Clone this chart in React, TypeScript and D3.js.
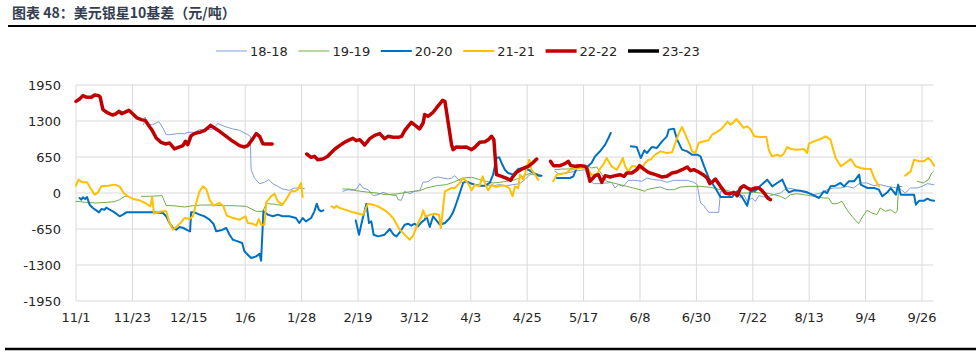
import React, { useEffect } from "react";
import * as d3 from "d3";

type Pt = [number, number] | null;

// day offsets from 2023-11-01 and basis values (元/吨)
const START = new Date(2023, 10, 1);
const TICK_STEP_DAYS = 22;
const TICK_COUNT = 16;
const Y_TICKS = [-1950, -1300, -650, 0, 650, 1300, 1950];
const SERIES_NAMES = ["18-18", "19-19", "20-20", "21-21", "22-22", "23-23"];
const SERIES_COLORS = ["#7f9ddb", "#70ad47", "#0070c0", "#ffc000", "#c00000", "#000000"];
const SERIES_WIDTHS = [1, 1, 2, 2, 3.5, 3.5];

const series18: Pt[] = [
  [26.4,1234],[27,1373],[27.5,1234],[30,1234],[32.3,1288],[33.9,1174],[35.2,1053],[36.5,1053],[39.7,1072],[42.3,1072],[43.6,1096],[46.2,1096],[48.2,1144],[50.8,1144],[53.4,1156],[55.3,1252],[58.6,1192],[61.2,1156],[63.8,1132],[67,1053],[68,1023],[68.3,421],[69.6,271],[71.6,169],[73.5,193],[75.2,241],[76.8,169],[78.7,120],[80.6,72],[83.2,48],[85.2,90],[87.1,90],[89.1,78],
  null,
  [104.1,30],[106.1,60],[108,48],[109.6,78],[110.7,169],[112,90],[113.9,60],[115.9,-48],[117.8,-30],[119.8,12],[122.4,-30],[125,-48],[125.6,-120],[126.9,-132],[128.2,30],[130.2,-12],[132.1,30],[134.1,48],[135.4,193],[137.3,205],[139.3,271],[141.3,289],[143.2,271],[145.2,253],[146.5,271],[147.8,313],[149.1,241],[150.4,193],[152.3,193],[154.9,151],[157.5,132],[160.1,132],[162.7,132],[165.3,151],[167.9,132],[170.5,151],[173.1,169],[175.1,241],[177,331],[179,331],[181,331],
  null,
  [186.8,391],[188.8,331],[190.7,361],[192.7,373],[194.6,391],[196.6,409],[198.5,421],[200.5,241],[201.8,169],[204.4,169],[207,181],[208.9,193],[210.3,90],[211.6,151],[213.5,120],[215.5,229],[218.1,229],[220.7,211],[222.7,271],[225.4,241],[228,229],[230.5,193],[233.1,229],[235.8,229],[238.4,229],[241,193],[242.3,151],[243.6,-181],[244.9,-229],[246.8,-349],[248.8,-349],[250.7,-349],[251.4,30],[253.3,0],[255.2,0],[257.2,-18],[259.2,-90],[260.5,-30],[261.8,-150],[263.7,-90],[265,-150],[266.4,-48],[268.3,-72],[270.3,-60],[272.2,-30],[274.8,0],[277.4,90],[280,72],[282.6,30],[285.2,0],[287.8,-30],[290.4,0],[293,60],[295.6,90],[298.2,90],[300.8,120],[303.3,90],[305.9,181],[308.5,181],[311.1,132],[313.7,151],[316.3,120],[318.9,102],[321.5,72],[323.5,0],[325.5,90],[328.1,90],[330,120],[332,169],[334.6,151],
];

const series19: Pt[] = [
  [0,-150],[4,-169],[7.9,-181],[11.8,-169],[15,-157],[17,-120],[19,-60],[20.3,-60],
  null,
  [25.5,-60],[28.7,-60],[33.6,-48],[35.2,-229],[37.8,-229],[42.3,-253],[45.6,-229],[49.5,-217],[53.4,-217],[57.3,-229],[61.2,-229],[66.4,-241],[70.3,-331],[72.9,-331],[74.2,-193],[76.8,-199],[78.7,-211],[80.4,-223],
  null,
  [104.1,72],[106.7,72],[109.3,42],[113.3,18],[117.2,0],[121,-30],[125,-18],[128.9,12],[131.5,30],[134.1,42],[136.7,90],[140.6,132],[144.5,151],[147.1,193],[151,271],[154.3,283],[157.5,241],[160.1,211],[162.7,181],[165.3,193],[167.9,211],[170.5,229],[173.1,271],[175.8,331],[178.4,373],[181,331],
  null,
  [186.8,421],[189.4,433],[192,433],[195.3,452],[199.2,494],[201.1,452],[203.1,470],[207,211],[209.6,181],[212.2,151],[214.8,120],[217.4,90],[220,60],[222,30],[222.7,60],[225.4,90],[228,108],[230.5,60],[233.1,60],[235.8,108],[239.7,120],[243.6,120],[247.5,102],[251.4,60],[254,48],[256.6,0],[259.2,0],[261.8,0],[264.4,12],[267,0],[269.5,0],[272.2,-30],[274.8,-60],[276.7,-108],[278.7,-30],[281.3,-12],[283.8,-30],[286.5,-48],[289.1,-72],[291.6,-90],[293.6,-90],[294.9,-193],[296.8,-193],[298.8,-150],[300.7,-301],[302.7,-421],[305.3,-554],[306.5,-452],[308.5,-313],[310.5,-361],[312.4,-391],[313.7,-271],[315.7,-331],[317.7,-301],[319.6,-361],[320.3,-331],[320.9,120],[322.2,120],
  null,
  [328.2,211],[330.5,181],[332.5,241],[333.8,361],[334.5,391],
];

const series20: Pt[] = [
  [1.4,-90],[2.1,-120],[2.7,-78],[3.6,-108],[4.3,-72],[5.3,-211],[6.6,-271],[7.9,-313],[9,-349],[9.9,-289],[11.2,-301],[11.8,-265],[13.1,-301],[14.4,-331],[15.7,-373],[17,-421],[18.3,-391],[19.6,-349],[21.9,-349],[26.1,-349],[30,-349],[33.9,-361],[35.2,-421],[36.5,-542],[37.8,-632],[39.1,-662],[40.4,-614],[41.9,-632],[43.6,-674],[44.5,-692],[44.9,-349],[46.2,-349],[48.2,-391],[50.1,-421],[52.1,-482],[53.6,-554],[54.7,-692],[56.6,-674],[58.6,-632],[59.9,-753],[61.2,-843],[63.1,-873],[64.8,-903],[65.7,-1053],[67,-1114],[68.3,-1174],[70.3,-1144],[71.6,-1096],[72.2,-1222],[73.1,-331],[74.8,-391],[76.8,-421],[78.7,-391],[80.6,-421],[83.2,-421],[85.8,-452],[87.1,-542],[88.4,-452],[89.7,-512],[91.7,-452],[93,-331],[93.9,-193],[94.7,-301],[95.6,-331],[96.5,-313],
  null,
  [109.1,-494],[110.4,-753],[111.7,-482],[113.3,-193],[114.3,-542],[115.2,-512],[116.1,-753],[117.8,-783],[120.4,-753],[122.4,-650],[123.9,-753],[125,-783],[126.3,-710],[128.2,-572],[129.5,-554],[130.8,-590],[132.1,-554],[133.4,-602],[134.7,-530],[136,-482],[136.7,-421],[138,-614],[139.3,-421],[140.6,-494],[141.9,-572],[143.9,-542],[145.8,-452],[147.1,-349],[148.4,-181],[149.7,0],[151,181],[152.3,211],[153.6,181],[155.6,151],[157.5,132],[159.5,132],[161.4,181],[162.7,331],[164,632],[165.1,644],[166,542],[167.3,421],[168.6,361],[170.5,331],[172.5,433],[174.5,452],[176.4,421],[178.4,361],[180.3,313],[181.6,313],
  null,
  [187.5,271],[190.1,271],[192.7,271],[194,301],[195.3,452],[197.2,494],[199.2,464],[201.1,542],[202.5,662],[204.4,753],[206.4,873],[207.7,993],[208.6,1084],
  null,
  [216.4,843],[218.7,831],[220.3,632],[221.7,770],[222.7,722],[224.7,831],[226.6,813],[228.6,933],[230.5,1023],[231.2,1144],[233.2,1162],[234.5,963],[236.4,783],[238.4,752],[240.3,692],[242.3,692],[243.6,662],[244.9,494],[246.8,271],[249.4,90],[251.4,-72],[253.9,-72],[255.9,-72],[257.8,30],[259.8,-72],[261.8,-229],[263.1,30],[265,42],[267,132],[269.6,241],[271.6,120],[273.5,181],[275.5,241],[277.2,60],[278.1,12],[280,48],[282.6,42],[285.2,12],[287.2,-30],[289.8,-90],[291.7,30],[293,0],[294.3,120],[296.3,132],[298.2,181],[299.6,120],[301.5,211],[303.5,211],[305.5,331],[306.1,151],[307.4,120],[308.7,90],[311.3,90],[313.2,60],[314.5,-60],[316.5,12],[317.8,90],[319.8,-30],[320.7,151],[321.7,-30],[324.3,-30],[326.9,-30],[327.6,-211],[328.9,-139],[330.8,-139],[332.1,-102],[333.4,-133],[334.7,-139],
];

const series21: Pt[] = [
  [0,132],[1,241],[2.5,193],[4.3,193],[6,60],[7.3,-30],[8.6,12],[9.9,120],[12.5,132],[15,151],[17,120],[18.6,0],[20.3,-60],[22.2,-108],[24.8,-132],[27.4,-193],[29,-241],[29.7,-72],[30.4,-373],[31.9,-349],[33.9,-331],[35.2,-331],[36.5,-542],[37.8,-662],[39.1,-614],[41,-530],[42.3,-452],[44.3,-470],[45.6,-421],[46.9,-181],[48.2,30],[49.5,120],[50.8,72],[52.1,-120],[53.6,-229],[56,-181],[57.5,-241],[58.8,-409],[61.2,-452],[63.8,-482],[66.1,-421],[67,-542],[69,-554],[70.3,-590],[71.3,-470],[72.2,-572],[73.5,-572],[74.2,-169],[76.1,-60],[77.4,-12],[78.7,-150],[80.6,-211],[81.9,-120],[83.9,30],[85.2,30],[86.5,60],[87.8,181],[88.4,-72],
  null,
  [99.6,-241],[100.9,-271],[101.5,-229],[102.8,-271],[105,-300],[108,-349],[112,-391],[113.9,-193],[115.9,-211],[117.8,-241],[121.1,-331],[123.7,-452],[126.3,-662],[128.6,-770],[130.2,-843],[131.5,-770],[133.4,-542],[134.7,-433],[135.4,-313],[136.4,-433],[138,-391],[139.9,-373],[141.6,-391],[142.3,-632],[143.9,30],[145.2,60],[146.5,90],[147.8,90],[149.7,181],[151,271],[153,169],[154.3,48],[155.6,151],[157.3,120],[158.6,301],[159.7,151],[160.8,48],[162.1,151],[163.8,108],[165.3,132],[167.3,132],[169,90],[170.3,-60],[171.2,120],[172.5,90],[173.2,331],[174.5,241],[175.8,452],[176.8,602],[177.7,421],[179,331],[180.3,241],
  null,
  [186.2,211],[187.5,331],[189.4,349],[191.4,361],[192.7,421],[194.6,433],[196.6,452],[199.2,470],[201.1,331],[203.1,331],[204.6,452],[205.7,512],[207,632],[208.9,482],[210.9,421],[211.9,494],[213.3,632],[214.2,482],[215.5,391],[216.8,482],[218.1,482],[219.4,421],[220.7,452],[222,542],[223.3,602],[224.1,602],[226,692],[228,752],[230.5,722],[232.5,734],[233.8,903],[235.1,1072],[236.4,1192],[237.7,1053],[239.4,873],[240.3,752],[241.6,722],[242.9,903],[244.9,933],[246.8,951],[248.1,1053],[249.4,1084],[251.4,1144],[252.6,1204],[254.2,1288],[255.2,1234],[256.5,1276],[257.6,1336],[259.1,1252],[260.4,1174],[261.7,1204],[263,1156],[264.6,1023],[266.9,1011],[269.3,1011],[270.2,783],[271.5,662],[273.5,692],[274.8,662],[276.1,710],[277.4,831],[278.7,795],[281.3,783],[283.9,795],[285.2,722],[285.9,891],[287.8,933],[290.4,975],[292.4,1023],[294.3,963],[296.3,632],[298.3,482],[300.2,542],[302.2,614],[304.1,482],[306.1,452],[308,433],[310,433],[311.3,271],[313.2,120],
  null,
  [323.4,313],[325.6,391],[326.9,602],[328.9,572],[330.8,572],[332.4,632],[333.4,590],[334.7,494],
];

const series22: Pt[] = [
  [0,1655],[1.4,1698],[2.7,1758],[4.3,1728],[6,1728],[7.3,1770],[8.8,1758],[9.4,1735],[10.5,1505],[12,1457],[14.2,1409],[15.5,1427],[16.8,1475],[17.8,1433],[19,1457],[20.6,1493],[22.2,1427],[23.8,1355],[25.5,1324],[27.1,1306],[28.4,1216],[29.7,1132],[31.3,993],[33.2,915],[34.9,885],[36.5,903],[38.4,795],[40.4,831],[41.7,855],[42.7,933],[43.6,873],[44.9,1035],[46.2,1072],[48.2,1096],[50.1,1126],[51.4,1174],[52.5,1222],[54,1174],[56,1114],[58.6,1023],[61.2,933],[63.8,855],[65.7,831],[67,855],[68.7,963],[70.3,1072],[71.6,1023],[72.9,891],[74.2,885],[76.5,885],
  null,
  [90,704],[91.7,644],[93,662],[94.3,602],[96.2,614],[97,632],[98.2,662],[99,704],[101,795],[102.8,855],[104.8,915],[106,945],[108,987],[109.3,945],[110.7,963],[112.6,867],[114.6,981],[116.5,1041],[118.5,1072],[120.4,981],[121.7,1023],[123.7,1005],[125.6,1005],[127,1023],[128.2,1126],[129.5,1204],[130.8,1276],[132.8,1204],[134,1156],[135.4,1264],[136,1415],[137.3,1385],[139.3,1457],[140.6,1535],[141.9,1607],[143,1674],[143.9,1656],[145.2,1264],[146.5,873],[147.1,783],[148.4,831],[150.4,825],[152.3,831],[154.3,783],[155.6,825],[157.5,915],[159.5,927],[160.8,963],[162.1,1023],[163,963],[164,331],[166,301],[168,265],[169.5,229],[170.5,301],[171.8,373],[173.5,421],[175.1,457],[176.4,482],[178.4,554],[179.7,614],
  null,
  [185.1,572],[186.2,494],[188.8,494],[190.7,530],[192,572],[193,494],[194.6,482],[196.6,494],[198.5,482],[199.2,452],[200.5,211],[202.5,313],[203.8,331],[205.1,193],[206.4,313],[208.4,289],[210.3,313],[212.2,331],[213.8,301],[214.8,361],[216.8,361],[218.7,421],[219.8,494],[221.5,430],[223,380],[224,361],[226,331],[228.6,289],[230.5,301],[232.5,361],[234.4,379],[236.4,421],[238.4,469],[239.7,403],[241,421],[242.9,379],[244.6,331],[246.2,271],[247.2,169],[248.5,211],[249.4,253],[251.4,120],[253.3,0],[255,-18],[256.6,12],[257.9,-48],[259.2,90],[260.5,132],[261.8,90],[263.1,60],[265,90],[266.4,90],[267.6,42],[268.9,-30],[269.8,-90],[270.9,-120],
];

const series23: Pt[] = [];

const ALL_SERIES = [series18, series19, series20, series21, series22, series23];

const W = 976;
const H = 355;
const PLOT_LEFT = 76;
const PLOT_RIGHT = 933;
const PLOT_TOP = 85;
const PLOT_BOTTOM = 301;

export default function App() {
  useEffect(() => {
    document.body.style.margin = "0";
  }, []);

  const dayToDate = (d: number) => new Date(START.getTime() + d * 86400000);
  const lastTick = dayToDate(TICK_STEP_DAYS * (TICK_COUNT - 1));
  const x = d3.scaleTime().domain([START, lastTick]).range([PLOT_LEFT, 922]);
  const y = d3.scaleLinear().domain([-1950, 1950]).range([PLOT_BOTTOM, PLOT_TOP]);
  const ticks = d3.range(TICK_COUNT).map((i) => d3.timeDay.offset(START, i * TICK_STEP_DAYS));
  const fmt = d3.timeFormat("%-m/%-d");

  const line = d3
    .line<Pt>()
    .defined((d) => d !== null)
    .x((d) => x(dayToDate((d as [number, number])[0])))
    .y((d) => y((d as [number, number])[1]));

  const font = "'DejaVu Sans', 'Liberation Sans', sans-serif";
  const legendStart = 216;
  const legendStep = 82.4;

  return (
    <svg width={W} height={H} style={{ position: "absolute", left: 0, top: 0, display: "block", background: "#fff" }}>
      <text x={12} y={18} fontFamily="'Noto Sans CJK SC', sans-serif" fontWeight="bold" fontSize={14} fill="#333f50">
        图表 48：美元银星10基差（元/吨）
      </text>
      <line x1={8} x2={976} y1={26} y2={26} stroke="#000" strokeWidth={2.2} />
      <line x1={5} x2={976} y1={349} y2={349} stroke="#000" strokeWidth={2.5} />

      {/* gridlines */}
      {Y_TICKS.map((t) => (
        <line key={"h" + t} x1={PLOT_LEFT} x2={PLOT_RIGHT} y1={y(t)} y2={y(t)} stroke="#d9d9d9" strokeWidth={1} />
      ))}
      {ticks.map((t, i) => (
        <line key={"v" + i} x1={x(t)} x2={x(t)} y1={PLOT_TOP} y2={PLOT_BOTTOM} stroke="#d9d9d9" strokeWidth={1} />
      ))}

      {/* y labels */}
      {Y_TICKS.map((t) => (
        <text key={"yl" + t} x={61} y={y(t)} dy="0.35em" textAnchor="end" fontFamily={font} fontSize={13} fill="#262626">
          {t}
        </text>
      ))}
      {/* x labels */}
      {ticks.map((t, i) => (
        <text key={"xl" + i} x={x(t)} y={322} textAnchor="middle" fontFamily={font} fontSize={13} fill="#262626">
          {fmt(t)}
        </text>
      ))}

      {/* series */}
      {ALL_SERIES.map((s, i) =>
        s.length ? (
          <path
            key={"s" + i}
            d={line(s) || ""}
            fill="none"
            stroke={SERIES_COLORS[i]}
            strokeWidth={SERIES_WIDTHS[i]}
            strokeLinejoin="round"
            strokeLinecap="round"
          />
        ) : null
      )}

      {/* legend */}
      {SERIES_NAMES.map((n, i) => {
        const lx = legendStart + i * legendStep;
        return (
          <g key={"lg" + i}>
            <line x1={lx} x2={lx + 31} y1={51} y2={51} stroke={SERIES_COLORS[i]} strokeWidth={SERIES_WIDTHS[i]} />
            <text x={lx + 34} y={51} dy="0.35em" fontFamily={font} fontSize={13} fill="#262626">
              {n}
            </text>
          </g>
        );
      })}
    </svg>
  );
}
